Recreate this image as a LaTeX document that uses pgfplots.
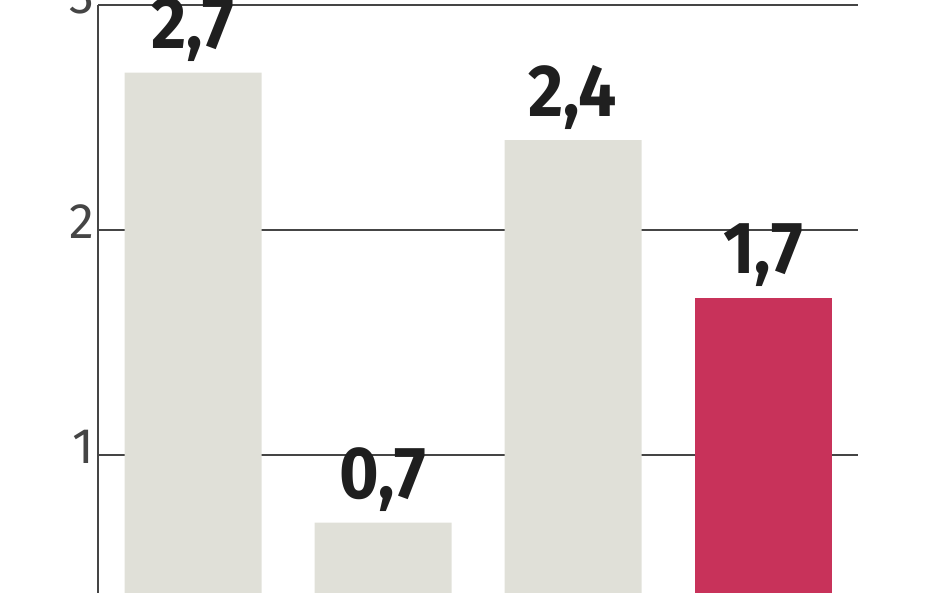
\documentclass[border=0pt]{standalone}
\usepackage{pgfplots}
\pgfplotsset{compat=1.18}
\usepackage{fontspec}
\setmainfont{Fira Sans}
\newfontfamily\valfont[FakeStretch=0.92]{Fira Sans}
\definecolor{barGray}{HTML}{E0E0D8}
\definecolor{barRed}{HTML}{C8325A}
\definecolor{gridGray}{HTML}{454545}
\begin{document}
\begin{tikzpicture}
\begin{axis}[
  at={(98bp,0bp)}, anchor=south west,
  scale only axis, width=760bp, height=588bp,
  ybar, bar width=137bp,
  xmin=-0.5, xmax=3.5, ymin=0.387, ymax=3,
  axis x line=none, axis y line*=left,
  y axis line style={gridGray, line width=2bp, -},
  ytick={1,2,3}, xtick=\empty,
  ymajorgrids, major grid style={gridGray, line width=2bp},
  major tick length=0pt,
  /pgf/number format/assume math mode=true,
  yticklabel style={font=\fontsize{50}{60}\selectfont, text=gridGray, yshift=8bp},
  nodes near coords={\pgfmathprintnumber[use comma,fixed,fixed zerofill,precision=1]{\pgfplotspointmeta}},
  nodes near coords style={font=\valfont\bfseries\fontsize{74}{80}\selectfont, text=black!88, anchor=base, yshift=24bp, inner sep=0pt},
]
\addplot[fill=barGray, draw=none, bar shift=0pt] coordinates {(0,2.7) (1,0.7) (2,2.4)};
\addplot[fill=barRed, draw=none, bar shift=0pt] coordinates {(3,1.7)};
\end{axis}
\pgfresetboundingbox
\useasboundingbox (0,0) rectangle (948bp,593bp);
\end{tikzpicture}
\end{document}
